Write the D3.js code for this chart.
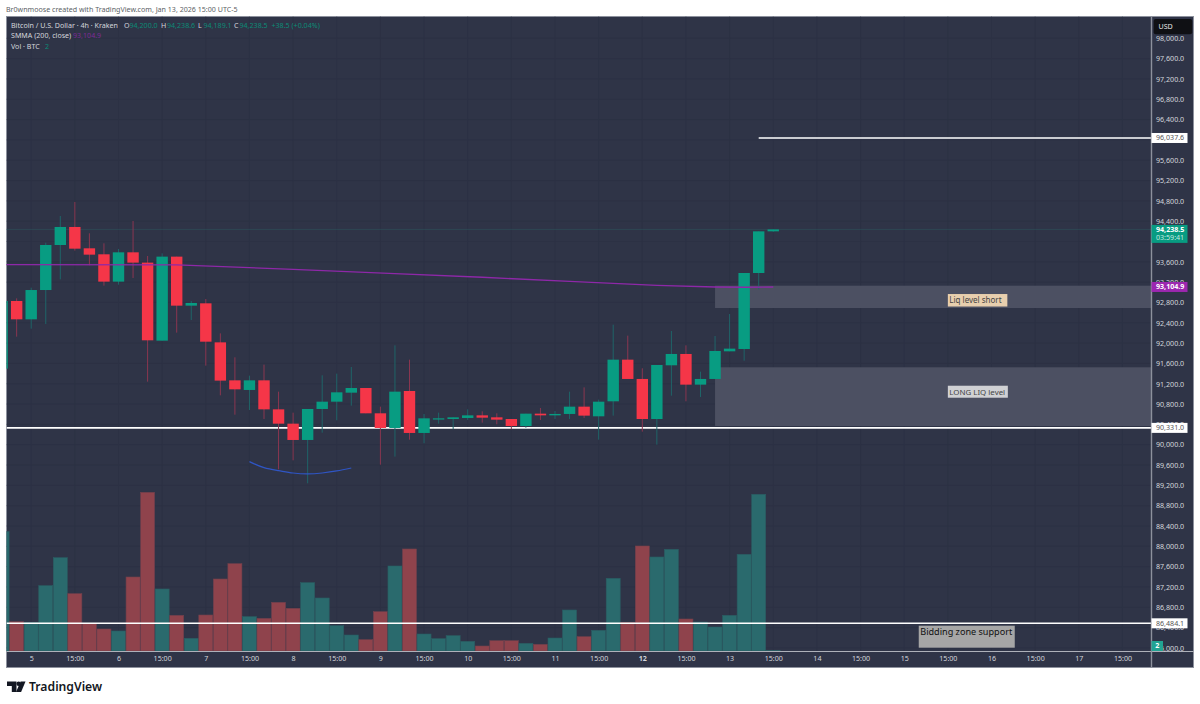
<!DOCTYPE html>
<html>
<head>
<meta charset="utf-8">
<script src="https://cdn.jsdelivr.net/npm/d3@7"></script>
<style>
  body { margin: 0; background: #fff; }
  text { font-family: "Noto Sans", sans-serif; }
</style>
</head>
<body>
<div id="chart"></div>
<script>
// candles, 4h, index 0 is the one cut off by the left edge
var opens = [91497,92829,92468,93045,93931,94286,93866,93748,93210,93787,93584,92048,93702,92737,92783,92015,91267,91077,
  91267,90696,90414,90093,90703,90847,91024,91116,90618,90329,91057,90231,90506,90506,90526,90578,90539,90506,
  90368,90611,90578,90605,90749,90559,90854,91674,91294,90506,91563,91786,91182,91294,91838,91884,93380,94200];
var highs = [92829,92881,93091,93977,94502,94778,94161,93964,93853,94404,93715,93767,93702,92829,92868,92192,91720,91359,
  91576,91044,90631,90703,91366,91399,91530,91116,90749,91956,91674,90605,90631,90539,90696,90657,90618,90506,
  90611,90723,90664,91044,91129,90887,92363,92147,91504,91569,92238,91956,91438,92140,92573,93380,94200,94238.6];
var lows = [91497,92127,92284,92376,93255,93820,93531,93131,93150,93282,91241,92048,92206,92455,91556,90972,90591,90683,
  90506,89515,89692,89240,90237,90480,90769,90618,89607,89765,90099,90027,90414,90303,90486,90434,90401,90303,
  90335,90486,90506,90506,90526,90099,90572,91294,90257,90001,90965,90854,90939,91294,91838,91654,93059,94189.1];
var closes = [92829,92468,93045,93931,94286,93859,93741,93210,93787,93584,92055,93702,92737,92790,92028,91261,91090,91267,
  90696,90414,90093,90703,90847,91031,91116,90618,90329,91044,90231,90519,90519,90539,90578,90532,90493,90368,
  90611,90578,90605,90749,90572,90847,91674,91294,90506,91569,91786,91182,91294,91845,91891,93380,94200,94238.5];
var volumes = [358,88,86,196,280,172,83,66,60,222,476,186,107,38,108,216,262,103,
  98,146,128,205,159,76,48,34,118,255,306,51,37,46,29,15,31,31,
  23,20,39,123,43,62,218,86,315,282,305,96,87,72,107,290,470,2];

// smma read at a few candles
var smmaIndex = [0,12,20,27,33,39,45,49,51,53];
var smmaValues = [93544,93540,93452,93367,93295,93216,93137,93105,93098,93104.9];

// hand drawn arc under the lows
var arcIndex = [17,18,19,20,21,22,23,24];
var arcPrices = [89666,89548,89489,89443,89424,89443,89483,89542];

var priceTicks = d3.range(86000, 98001, 400);
var hiddenTicks = [96000, 94000]; // fully behind the price tags
var timeTicks = d3.range(2, 78, 3);
var timeLabels = ["5","15:00","6","15:00","7","15:00","8","15:00","9","15:00","10","15:00","11","15:00","12","15:00",
  "13","15:00","14","15:00","15","15:00","16","15:00","17","15:00"];

var levels = [96037.6, 90331.0, 86484.1];
var levelStart = [52, 0, 0];
var zones = [[93130, 92691], [91524, 90368]];
var zoneStart = 49;
var lastPrice = 94238.5;
var smmaLast = 93104.9;

var width = 1200, height = 704;
var left = 6.5, right = 1151.5, top_ = 16.5, bottom = 651.5, outerRight = 1193.5, outerBottom = 667.5;

var upColor = "#089c82", downColor = "#f53648";
var bg = "#2f3447", grid = "#2c3144", frame = "#8d919d", axisText = "#d4d6dc";
var fontSize = 7.1;

var x = d3.scaleLinear().domain([0, 77]).range([2.1, 1122.45]);
var y = d3.scaleLinear().domain([86000, 98000]).range([647.9, 38.3]);
var yVol = d3.scaleLinear().domain([0, 476]).range([651, 492.3]);
var fmt = d3.format(",.1f");

var svg = d3.select("#chart").append("svg").attr("width", width).attr("height", height).style("display", "block");

svg.append("text").attr("x", 6).attr("y", 12).attr("font-size", fontSize).attr("fill", "#5c5f66")
  .text("Br0wnmoose created with TradingView.com, Jan 13, 2026 15:00 UTC-5");

svg.append("rect").attr("x", left).attr("y", top_).attr("width", outerRight - left).attr("height", outerBottom - top_)
  .attr("fill", bg).attr("stroke", frame);

svg.append("clipPath").attr("id", "plot").append("rect")
  .attr("x", left).attr("y", top_).attr("width", right - left).attr("height", bottom - top_);

var plot = svg.append("g").attr("clip-path", "url(#plot)");

// grid
plot.append("g").selectAll("line").data(priceTicks).join("line")
  .attr("x1", left).attr("x2", right).attr("y1", d => y(d)).attr("y2", d => y(d))
  .attr("stroke", grid);
plot.append("g").selectAll("line").data(timeTicks).join("line")
  .attr("y1", top_).attr("y2", bottom).attr("x1", d => x(d)).attr("x2", d => x(d))
  .attr("stroke", grid);

// volume
plot.append("g").selectAll("rect").data(volumes).join("rect")
  .attr("x", (d, i) => x(i) - 7)
  .attr("width", 14)
  .attr("y", d => yVol(d))
  .attr("height", d => yVol(0) - yVol(d))
  .attr("fill", (d, i) => closes[i] >= opens[i] ? "#2a6a6d" : "#8f434c")
  .attr("stroke", (d, i) => closes[i] >= opens[i] ? "#2a5c62" : "#70404c")
  .attr("stroke-width", 0.6);

// liquidity zones
plot.append("g").selectAll("rect").data(zones).join("rect")
  .attr("x", x(zoneStart))
  .attr("width", right - x(zoneStart))
  .attr("y", d => y(d[0]))
  .attr("height", d => y(d[1]) - y(d[0]))
  .attr("fill", "#4c5062");

// horizontal levels
plot.append("g").selectAll("line").data(levels).join("line")
  .attr("x1", (d, i) => x(levelStart[i]) < left ? left : x(levelStart[i]))
  .attr("x2", right)
  .attr("y1", d => y(d)).attr("y2", d => y(d))
  .attr("stroke", "#fff").attr("stroke-width", 1.6);

// last price line
plot.append("line").attr("x1", left).attr("x2", right).attr("y1", y(lastPrice)).attr("y2", y(lastPrice))
  .attr("stroke", "#2c5a60").attr("stroke-dasharray", "1,1");

// wicks
plot.append("g").selectAll("line").data(opens).join("line")
  .attr("x1", (d, i) => x(i)).attr("x2", (d, i) => x(i))
  .attr("y1", (d, i) => y(highs[i])).attr("y2", (d, i) => y(lows[i]))
  .attr("stroke", (d, i) => closes[i] >= opens[i] ? "#1f6468" : "#8a3650");

// bodies
plot.append("g").selectAll("rect").data(opens).join("rect")
  .attr("x", (d, i) => x(i) - 5.7)
  .attr("width", 11.4)
  .attr("y", (d, i) => y(Math.max(d, closes[i])))
  .attr("height", (d, i) => Math.max(1.2, Math.abs(y(d) - y(closes[i]))))
  .attr("fill", (d, i) => closes[i] >= d ? upColor : downColor);

// smma
var smmaLine = d3.line().x(d => x(d[0])).y(d => y(d[1]));
plot.append("path").datum(d3.zip(smmaIndex, smmaValues))
  .attr("d", smmaLine).attr("fill", "none").attr("stroke", "#8e28a8").attr("stroke-width", 1.4);

// arc
var arcLine = d3.line().x(d => x(d[0])).y(d => y(d[1])).curve(d3.curveNatural);
plot.append("path").datum(d3.zip(arcIndex, arcPrices))
  .attr("d", arcLine).attr("fill", "none").attr("stroke", "#2f55c4").attr("stroke-width", 1.2);

// text notes
function note(idx, price, w, h, fill, txt, size, color, dy) {
  var g = svg.append("g");
  g.append("rect").attr("x", x(idx)).attr("y", y(price)).attr("width", w).attr("height", h).attr("fill", fill);
  g.append("text").attr("x", x(idx) + 1.5).attr("y", y(price) + dy).attr("font-size", size).attr("fill", color).text(txt);
}
note(65, 92966, 59.5, 12.5, "#e8cfae", "Liq level short", 8, "#444", 9.3);
note(65, 91161, 60, 12, "#d0d1d4", "LONG LIQ level", 7.9, "#444", 9.2);
note(63, 86437, 96, 22, "#a6a6a6", "Bidding zone support", 9.1, "#111", 9.4);

// time axis
var xAxis = d3.axisBottom(x).tickValues(timeTicks).tickSize(0).tickPadding(0)
  .tickFormat((d, i) => timeLabels[i]);
var gx = svg.append("g").attr("transform", "translate(0," + 656 + ")").call(xAxis);
gx.select(".domain").remove();
gx.selectAll("text").attr("font-size", fontSize).attr("fill", axisText).attr("dy", "0.71em")
  .attr("font-family", '"Noto Sans", sans-serif')
  .attr("font-weight", (d, i) => timeLabels[i] == "12" ? 700 : 400);
svg.append("line").attr("x1", left).attr("x2", outerRight).attr("y1", bottom).attr("y2", bottom)
  .attr("stroke", "#aeb1ba");

// price axis
var yAxis = d3.axisRight(y).tickValues(priceTicks.filter(d => hiddenTicks.indexOf(d) == -1))
  .tickSize(0).tickPadding(0).tickFormat(fmt);
var gy = svg.append("g").attr("transform", "translate(1156,0)").call(yAxis);
gy.select(".domain").remove();
gy.selectAll("text").attr("font-size", fontSize).attr("fill", axisText)
  .attr("font-family", '"Noto Sans", sans-serif');
svg.append("line").attr("x1", right).attr("x2", right).attr("y1", top_).attr("y2", outerBottom)
  .attr("stroke", frame).attr("stroke-width", 1.4);

// price labels
function priceTag(value, fill, color, bold) {
  svg.append("rect").attr("x", right).attr("y", y(value) - 5).attr("width", 36).attr("height", 10).attr("fill", fill);
  svg.append("text").attr("x", 1156).attr("y", y(value)).attr("dy", "0.34em")
    .attr("font-size", fontSize).attr("font-weight", bold ? 700 : 400).attr("fill", color).text(fmt(value));
}
levels.forEach(function (d) { priceTag(d, "#fff", "#555", false); });
priceTag(smmaLast, "#9c27b0", "#fff", true);

svg.append("rect").attr("x", right).attr("y", y(lastPrice) - 4.5).attr("width", 36).attr("height", 18).attr("fill", upColor);
svg.append("text").attr("x", 1156).attr("y", y(lastPrice)).attr("dy", "0.34em")
  .attr("font-size", fontSize).attr("font-weight", 700).attr("fill", "#fff").text(fmt(lastPrice));
svg.append("text").attr("x", 1156).attr("y", y(lastPrice) + 8.2).attr("dy", "0.34em")
  .attr("font-size", fontSize).attr("fill", "#c6e8e0").text("03:59:41");

// volume tag
svg.append("rect").attr("x", right).attr("y", 641).attr("width", 11.5).attr("height", 10).attr("fill", "#22a393");
svg.append("text").attr("x", right + 5.7).attr("y", 646).attr("dy", "0.34em").attr("text-anchor", "middle")
  .attr("font-size", fontSize).attr("font-weight", 700).attr("fill", "#fff").text(volumes[volumes.length - 1]);

// currency box
svg.append("rect").attr("x", 1153.7).attr("y", 19).attr("width", 38.5).attr("height", 15.2).attr("rx", 2).attr("fill", "#0f1014");
svg.append("text").attr("x", 1158.5).attr("y", 29).attr("font-size", fontSize).attr("fill", "#e6e6e6").text("USD");

// legend
var legendParts = [
  [11, 28, "Bitcoin / U.S. Dollar · 4h · Kraken", axisText],
  [124, 28, "O", axisText], [129.5, 28, "94,200.0", "#0c8a76"],
  [161, 28, "H", axisText], [167, 28, "94,238.6", "#0c8a76"],
  [198, 28, "L", axisText], [203.5, 28, "94,189.1", "#0c8a76"],
  [234, 28, "C", axisText], [239.5, 28, "94,238.5", "#0c8a76"],
  [271.5, 28, "+38.5 (+0.04%)", "#0c8a76"],
  [11, 38.3, "SMMA (200, close)", axisText], [73, 38.3, "93,104.9", "#7e2a96"],
  [11, 48.5, "Vol · BTC", axisText], [45, 48.5, "2", "#0c8a76"]
];
svg.append("g").selectAll("text").data(legendParts).join("text")
  .attr("x", d => d[0]).attr("y", d => d[1]).attr("font-size", fontSize).attr("fill", d => d[3]).text(d => d[2]);

// logo
var logo = svg.append("g").attr("fill", "#131722");
logo.append("path").attr("d", "M7 681.5h9.5v10.5h-4.7v-6h-4.8z");
logo.append("circle").attr("cx", 18.6).attr("cy", 683.8).attr("r", 2.2);
logo.append("path").attr("d", "M20.6 681.5h4.9l-4.4 10.5h-5.1z");
svg.append("text").attr("x", 29).attr("y", 691).attr("font-size", 12.2).attr("font-weight", 600)
  .attr("font-family", "Inter, sans-serif").attr("fill", "#131722").text("TradingView");
</script>
</body>
</html>
